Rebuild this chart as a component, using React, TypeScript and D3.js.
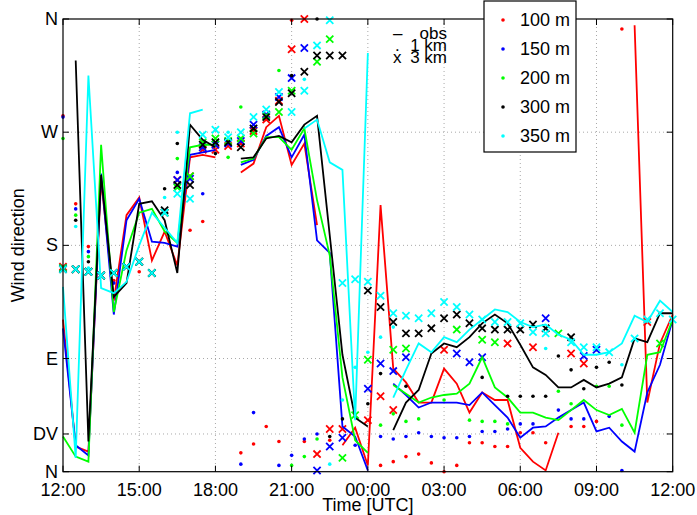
import React from 'react';
import * as d3 from 'd3';

const W = 697, H = 515;
const FONT = '"Liberation Sans", Arial, Helvetica, sans-serif';

// half-hour slots from 12:00 (slot 0) to 12:00 next day (slot 48)
const hours = d3.range(49).map(i => i * 0.5);
const xTickHours = [0, 3, 6, 9, 12, 15, 18, 21, 24];
const xTickLabels = ['12:00', '15:00', '18:00', '21:00', '00:00', '03:00', '06:00', '09:00', '12:00'];
const yTickValues = [0, 30, 90, 180, 270, 360];
const yTickLabels = ['N', 'DV', 'E', 'S', 'W', 'N'];
const heightLabels = ['100 m', '150 m', '200 m', '300 m', '350 m'];
const colors = ['#ff0000', '#0000ff', '#00ff00', '#000000', '#00ffff'];

// observed wind direction (deg), one value per half-hour slot
const obs100 = [121,20,16,232,136,204,218,168,191,164,250,252,250,null,238,245,274,283,244,261,196,null,21,35,5,212,82,71,55,55,82,70,47,63,57,57,19,8,1,31,null,null,null,null,null,355,55,102,125];
const obs150 = [114,21,13,237,125,200,217,183,182,179,252,254,256,null,244,248,267,274,250,268,184,174,36,28,1,null,70,61,51,55,55,55,53,63,53,43,27,35,36,43,49,55,32,35,24,16,63,85,121];
const obs200 = [28,12,8,260,127,176,206,209,191,182,258,260,260,null,246,249,266,266,256,273,216,172,75,25,15,null,69,62,55,59,61,62,70,91,67,59,47,47,43,41,49,57,49,45,50,31,93,95,121];
const obs300 = [null,327,24,236,139,150,213,215,200,158,276,264,258,null,249,250,265,267,262,276,283,188,93,43,36,null,33,55,65,94,102,99,107,118,125,118,101,83,77,67,67,73,67,70,75,106,103,126,126];
const obs350 = [147,11,315,146,142,151,180,206,194,182,285,288,null,null,null,null,null,null,null,273,280,246,240,41,333,null,59,81,102,95,107,103,113,121,129,127,119,115,117,109,105,93,93,95,102,124,119,136,127];

// model 3 km: [slot, deg]
const km3_100 = [[0,163],[1,161],[2,159],[3,156],[4,158],[5,163],[6,167],[7,158],[8,206],[9,232],[10,235],[11,256],[12,256],[13,259],[14,261],[15,271],[16,280],[17,295],[18,336],[19,360],[20,14],[21,34],[22,34],[24,41],[25,60],[26,49],[30,97],[35,102],[37,99],[40,94],[41,86],[46,119]];
const km3_150 = [[0,162],[1,161],[2,159],[3,156],[4,158],[5,163],[6,167],[7,158],[8,206],[9,232],[10,233],[11,258],[12,260],[13,261],[14,263],[15,276],[16,284],[17,298],[18,313],[19,337],[20,1],[21,20],[22,27],[24,66],[25,86],[26,80],[27,91],[31,94],[32,87],[33,91],[38,122],[41,92],[42,97]];
const km3_200 = [[0,162],[1,161],[2,159],[3,156],[4,158],[5,163],[6,167],[7,158],[8,206],[9,226],[10,235],[11,262],[12,265],[13,263],[14,265],[15,269],[16,283],[17,286],[18,303],[20,326],[21,344],[22,11],[23,45],[24,89],[26,97],[27,98],[31,113],[33,105],[34,103],[39,110],[47,102]];
const km3_300 = [[0,161],[1,161],[2,159],[3,156],[4,158],[5,163],[6,167],[7,158],[8,208],[9,228],[10,228],[11,260],[12,262],[13,262],[14,258],[15,273],[16,282],[17,294],[18,301],[19,318],[20,331],[21,331],[22,331],[24,144],[25,131],[26,119],[27,110],[28,110],[29,114],[30,122],[31,125],[32,118],[33,114],[34,113],[35,113],[36,113],[37,117],[38,114],[40,107]];
const km3_350 = [[0,161],[1,161],[2,159],[3,156],[4,158],[5,163],[6,167],[7,158],[8,206],[9,221],[10,217],[11,268],[12,272],[13,266],[14,270],[15,282],[16,288],[17,302],[18,286],[19,303],[20,339],[21,359],[22,150],[23,153],[24,151],[25,140],[26,126],[27,124],[28,122],[29,126],[30,135],[31,131],[32,125],[33,121],[34,119],[35,119],[36,118],[37,111],[38,110],[40,103],[41,99],[42,99],[43,95],[45,106],[46,121],[47,126],[48,121]];

// model 1 km: [slot, deg]
const km1_100 = [[0,283],[1,213],[2,179],[4,152],[6,159],[10,192],[11,199],[14,15],[15,22],[16,36],[17,24],[18,359],[19,24],[21,25],[25,5],[26,8],[27,12],[28,14],[29,7],[30,0],[31,5],[32,23],[33,23],[34,20],[35,20],[36,31],[37,31],[38,23],[40,36],[41,36],[42,40],[44,352],[47,126]];
const km1_150 = [[0,282],[1,209],[2,175],[4,150],[9,238],[11,221],[14,6],[15,47],[17,5],[18,13],[19,26],[20,30],[23,21],[25,28],[26,26],[27,28],[28,31],[29,28],[30,27],[31,27],[32,28],[33,32],[34,32],[35,34],[36,38],[37,38],[39,49],[40,42],[41,42],[43,44],[44,1]];
const km1_200 = [[0,265],[1,204],[2,171],[9,249],[13,250],[14,290],[17,319],[18,5],[19,12],[20,26],[25,37],[26,46],[27,40],[28,42],[30,57],[32,41],[33,40],[34,40],[35,38],[39,64],[40,54],[42,68],[43,68],[44,37]];
const km1_300 = [[1,200],[2,167],[8,225],[9,261],[12,253],[18,315],[20,360],[21,28],[22,42],[24,54],[25,78],[27,68],[33,75],[35,60],[36,60],[37,60],[38,60],[39,92],[40,81],[41,66],[42,83],[43,87],[44,69]];
const km1_350 = [[1,195],[2,162],[8,218],[9,270],[13,270],[19,312],[21,6],[22,57],[23,83],[24,95],[25,107],[26,115],[38,98],[44,85]];

const obsSeries = [obs100, obs150, obs200, obs300, obs350];
const km1Series = [km1_100, km1_150, km1_200, km1_300, km1_350];
const km3Series = [km3_100, km3_150, km3_200, km3_300, km3_350];

const L = 63, R = 672.7, T = 19, B = 471.7;

export default function App() {
  const x = d3.scaleLinear().domain([0, 24]).range([L, R]);
  const y = d3.scaleLinear().domain([0, 360]).range([B, T]);
  const line = d3.line<number | null>()
    .defined(d => d !== null)
    .x((_, i) => x(hours[i]))
    .y(d => y(d as number));
  const fs = 18;
  const tick = 6;
  const xs = 3.6;

  return (
    <svg width={W} height={H} style={{ position: 'absolute', left: 0, top: 0, background: '#fff' }} fontFamily={FONT}>
      <rect x={0} y={0} width={W} height={H} fill="#fff" />
      {/* grid */}
      {xTickHours.slice(1, -1).map((h, i) => (
        <line key={'gx' + i} x1={x(h)} x2={x(h)} y1={T} y2={B} stroke="#a8a8a8" strokeWidth={1} strokeDasharray="1,3" />
      ))}
      {yTickValues.slice(1, -1).map((v, i) => (
        <line key={'gy' + i} x1={L} x2={R} y1={y(v)} y2={y(v)} stroke="#a8a8a8" strokeWidth={1} strokeDasharray="1,3" />
      ))}
      {/* data */}
      {obsSeries.map((s, k) => (
        <g key={'s' + k}>
          <path d={line(s) || ''} fill="none" stroke={colors[k]} strokeWidth={1.8} />
          {km1Series[k].map(([slot, v], j) => (
            <circle key={'d' + j} cx={x(hours[slot])} cy={y(v)} r={1.8} fill={colors[k]} />
          ))}
          {km3Series[k].map(([slot, v], j) => {
            const cx = x(hours[slot]), cy = y(v);
            return (
              <path key={'x' + j} d={`M${cx - xs},${cy - xs}L${cx + xs},${cy + xs}M${cx - xs},${cy + xs}L${cx + xs},${cy - xs}`} stroke={colors[k]} strokeWidth={1.8} fill="none" />
            );
          })}
        </g>
      ))}
      {/* axes box */}
      <rect x={L} y={T} width={R - L} height={B - T} fill="none" stroke="#000" strokeWidth={1.2} />
      {xTickHours.map((h, i) => (
        <g key={'xt' + i}>
          <line x1={x(h)} x2={x(h)} y1={B} y2={B - tick} stroke="#000" />
          <line x1={x(h)} x2={x(h)} y1={T} y2={T + tick} stroke="#000" />
          <text x={x(h)} y={B + 24} textAnchor="middle" fontSize={fs}>{xTickLabels[i]}</text>
        </g>
      ))}
      {yTickValues.map((v, i) => (
        <g key={'yt' + i}>
          <line x1={L} x2={L + tick} y1={y(v)} y2={y(v)} stroke="#000" />
          <line x1={R} x2={R - tick} y1={y(v)} y2={y(v)} stroke="#000" />
          <text x={L - 5} y={y(v) + 6} textAnchor="end" fontSize={fs}>{yTickLabels[i]}</text>
        </g>
      ))}
      <text x={(L + R) / 2} y={511} textAnchor="middle" fontSize={fs}>Time [UTC]</text>
      <text transform={`translate(24,${(T + B) / 2}) rotate(-90)`} textAnchor="middle" fontSize={fs}>Wind direction</text>
      {/* annotation */}
      <g fontSize={17}>
        <text x={393} y={39}>–</text>
        <text x={447} y={39} textAnchor="end">obs</text>
        <text x={395} y={51}>.</text>
        <text x={447} y={51} textAnchor="end">1 km</text>
        <text x={393} y={63}>x</text>
        <text x={447} y={63} textAnchor="end">3 km</text>
      </g>
      {/* legend */}
      <rect x={484} y={1} width={92} height={151} fill="#fff" stroke="#000" strokeWidth={1.2} />
      {heightLabels.map((lab, k) => (
        <g key={'lg' + k}>
          <circle cx={503} cy={20 + k * 29} r={1.8} fill={colors[k]} />
          <text x={520} y={20 + k * 29 + 6} fontSize={fs}>{lab}</text>
        </g>
      ))}
    </svg>
  );
}
